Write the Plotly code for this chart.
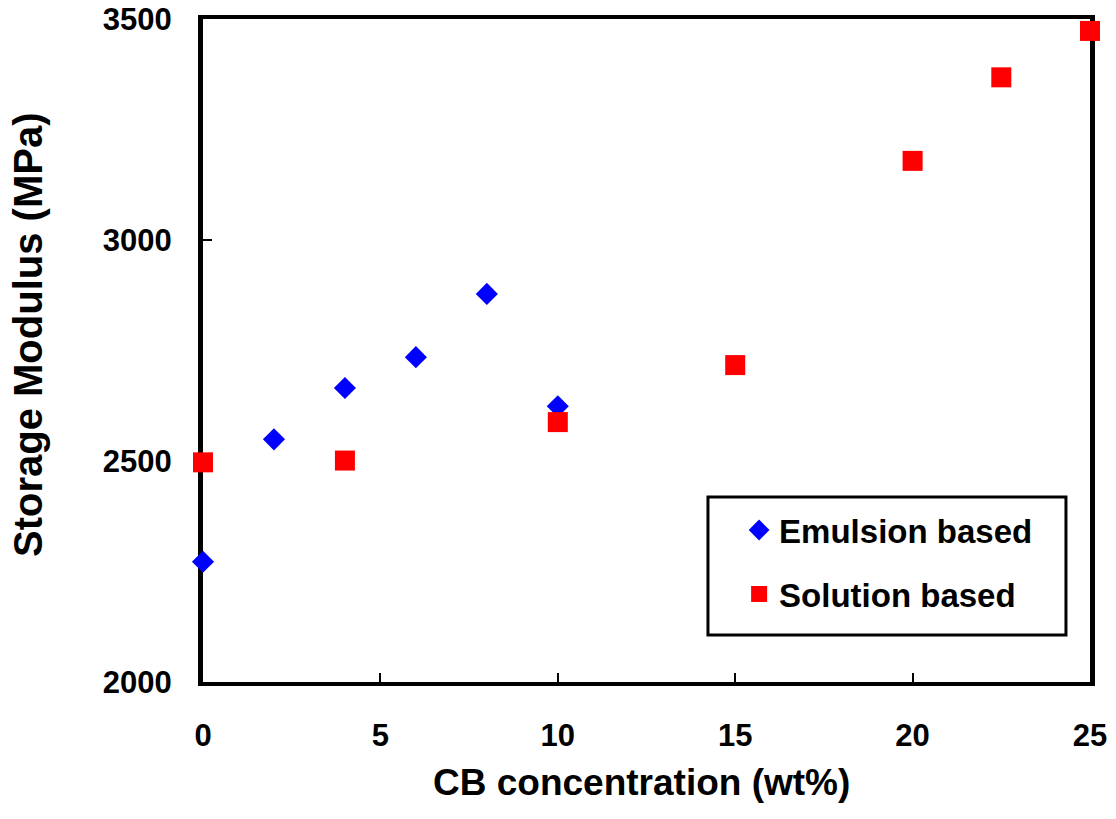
import plotly.graph_objects as go

# Data
emulsion_x = [0, 2, 4, 6, 8, 10]
emulsion_y = [2272, 2549, 2665, 2735, 2878, 2624]
solution_x = [0, 4, 10, 15, 20, 22.5, 25]
solution_y = [2497, 2501, 2588, 2717, 3179, 3368, 3473]

x_ticks = [0, 5, 10, 15, 20, 25]
y_ticks = [2000, 2500, 3000, 3500]

FONT = "Liberation Sans, Arial, sans-serif"

fig = go.Figure()
fig.add_trace(go.Scatter(
    x=emulsion_x, y=emulsion_y, mode="markers", name="Emulsion based",
    marker=dict(symbol="diamond", size=17, color="#0000FF", line=dict(width=0)),
    cliponaxis=False, legend="legend",
))
fig.add_trace(go.Scatter(
    x=solution_x, y=solution_y, mode="markers", name="Solution based",
    marker=dict(symbol="square", size=20, color="#FF0000", line=dict(width=0)),
    cliponaxis=False, legend="legend2",
))

fig.update_layout(
    width=1116, height=819,
    margin=dict(l=203, r=26, t=19, b=137, pad=0),
    paper_bgcolor="white", plot_bgcolor="white",
    font=dict(family=FONT, color="black"),
    showlegend=True,
    legend=dict(x=0.6044, y=0.2292, xanchor="left", yanchor="middle",
                bgcolor="rgba(0,0,0,0)", borderwidth=0,
                font=dict(family=FONT, size=33, color="black", weight="bold")),
    legend2=dict(x=0.6044, y=0.1327, xanchor="left", yanchor="middle",
                 bgcolor="rgba(0,0,0,0)", borderwidth=0,
                 font=dict(family=FONT, size=33, color="black", weight="bold")),
    shapes=[dict(type="rect", xref="paper", yref="paper",
                 x0=0.5693, x1=0.9729, y0=0.0709, y1=0.2790,
                 line=dict(color="black", width=3), fillcolor="rgba(0,0,0,0)")],
    annotations=[
        dict(text="<b>CB concentration (wt%)</b>", xref="paper", yref="paper",
             x=(641 - 203) / 887, y=(682 - 783) / 663, xanchor="center", yanchor="middle",
             showarrow=False, font=dict(family=FONT, size=37, color="black")),
        dict(text="<b>Storage Modulus (MPa)</b>", xref="paper", yref="paper",
             x=(28 - 203) / 887, y=(682 - 335) / 663, xanchor="center", yanchor="middle",
             textangle=-90, showarrow=False, font=dict(family=FONT, size=40, color="black")),
    ],
)

fig.update_xaxes(
    range=[0, 25], tickvals=x_ticks, ticktext=[str(v) for v in x_ticks],
    showgrid=False, zeroline=False, automargin=False,
    showline=True, linecolor="black", linewidth=4, mirror=True,
    ticks="inside", ticklen=9, tickwidth=2, tickcolor="black",
    ticklabelstandoff=23, layer="below traces",
    tickfont=dict(family=FONT, size=31, color="black", weight="bold"),
)
fig.update_yaxes(
    range=[2000, 3500], tickvals=y_ticks, ticktext=[str(v) for v in y_ticks],
    showgrid=False, zeroline=False, automargin=False,
    showline=True, linecolor="black", linewidth=5, mirror=True,
    ticks="inside", ticklen=9, tickwidth=2, tickcolor="black",
    ticklabelstandoff=20, layer="below traces",
    tickfont=dict(family=FONT, size=31, color="black", weight="bold"),
)

fig.write_html("out.html")
